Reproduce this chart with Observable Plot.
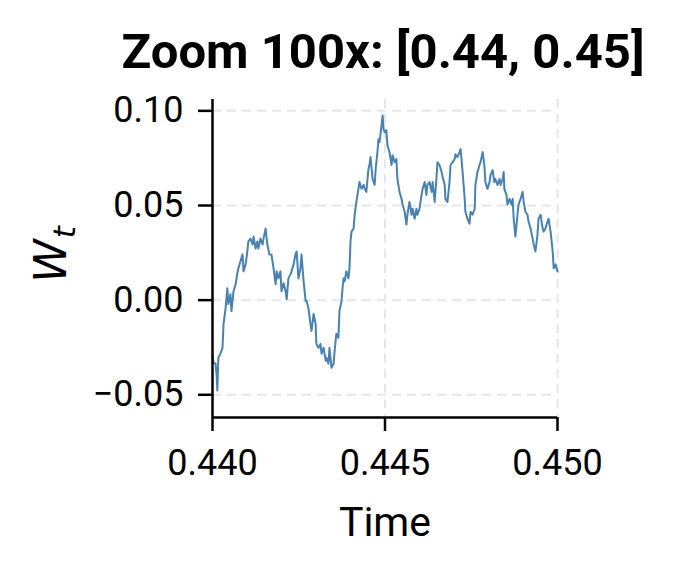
<!DOCTYPE html>
<html>
<head>
<meta charset="utf-8">
<script src="https://cdn.jsdelivr.net/npm/d3@7"></script>
<script src="https://cdn.jsdelivr.net/npm/@observablehq/plot@0.6"></script>
<style>
  html, body { margin: 0; padding: 0; background: #fff; }
  #chart { width: 676px; height: 574px; }
</style>
</head>
<body>
<div id="chart"></div>
<script>
const title = "Zoom 100x: [0.44, 0.45]";
const xLabel = "Time";
const xTicks = [0.44, 0.445, 0.45];
const yTicks = [-0.05, 0, 0.05, 0.1];

const time = [
  0.44000,0.44003,0.44009,0.44012,0.44014,0.44017,0.44023,0.44029,0.44032,0.44038,
  0.44043,0.44046,0.44052,0.44055,0.44061,0.44067,0.44072,0.44075,0.44081,0.44087,
  0.44090,0.44096,0.44101,0.44104,0.44110,0.44116,0.44119,0.44125,0.44130,0.44133,
  0.44139,0.44145,0.44148,0.44154,0.44159,0.44165,0.44171,0.44177,0.44183,0.44186,
  0.44191,0.44197,0.44200,0.44206,0.44212,0.44215,0.44220,0.44226,0.44229,0.44235,
  0.44241,0.44244,0.44249,0.44255,0.44258,0.44264,0.44270,0.44273,0.44278,0.44284,
  0.44287,0.44293,0.44299,0.44301,0.44307,0.44313,0.44316,0.44322,0.44328,0.44330,
  0.44336,0.44339,0.44345,0.44351,0.44354,0.44359,0.44365,0.44368,0.44374,0.44377,
  0.44380,0.44383,0.44388,0.44394,0.44397,0.44400,0.44403,0.44409,0.44412,0.44417,
  0.44423,0.44426,0.44432,0.44438,0.44441,0.44446,0.44452,0.44455,0.44458,0.44464,
  0.44470,0.44473,0.44478,0.44481,0.44484,0.44490,0.44493,0.44496,0.44499,0.44504,
  0.44507,0.44513,0.44519,0.44522,0.44528,0.44533,0.44536,0.44542,0.44548,0.44551,
  0.44557,0.44562,0.44565,0.44571,0.44577,0.44580,0.44586,0.44591,0.44594,0.44600,
  0.44606,0.44609,0.44615,0.44620,0.44623,0.44629,0.44635,0.44638,0.44644,0.44649,
  0.44652,0.44658,0.44664,0.44667,0.44673,0.44675,0.44681,0.44687,0.44690,0.44696,
  0.44702,0.44704,0.44710,0.44716,0.44719,0.44725,0.44731,0.44733,0.44739,0.44745,
  0.44748,0.44754,0.44760,0.44762,0.44768,0.44774,0.44777,0.44783,0.44788,0.44791,
  0.44797,0.44803,0.44806,0.44812,0.44817,0.44820,0.44826,0.44832,0.44835,0.44841,
  0.44844,0.44846,0.44852,0.44855,0.44861,0.44867,0.44870,0.44873,0.44878,0.44884,
  0.44887,0.44893,0.44899,0.44902,0.44907,0.44913,0.44916,0.44922,0.44928,0.44931,
  0.44936,0.44942,0.44945,0.44951,0.44957,0.44960,0.44965,0.44971,0.44974,0.44980,
  0.44986,0.44989,0.44994,0.45000
];
const wt = [
  -0.0294,-0.0331,-0.0336,-0.0399,-0.0477,-0.0304,-0.0283,-0.0252,-0.0126,-0.0042,
  0.0063,-0.0021,0.0031,-0.0058,0.0047,0.0084,0.0142,0.0168,0.0205,0.0241,
  0.0152,0.0189,0.0257,0.0310,0.0325,0.0294,0.0336,0.0273,0.0310,0.0273,
  0.0325,0.0294,0.0325,0.0378,0.0294,0.0241,0.0241,0.0168,0.0084,0.0152,
  0.0115,0.0152,0.0047,0.0089,0.0047,0.0005,0.0115,0.0136,0.0152,0.0189,
  0.0247,0.0257,0.0115,0.0168,0.0241,0.0100,-0.0005,-0.0005,-0.0042,-0.0126,
  -0.0163,-0.0073,-0.0126,-0.0231,-0.0252,-0.0231,-0.0283,-0.0252,-0.0320,-0.0304,
  -0.0336,-0.0252,-0.0357,-0.0336,-0.0268,-0.0178,-0.0199,-0.0058,-0.0005,0.0063,
  0.0115,0.0100,0.0152,0.0115,0.0168,0.0310,0.0362,0.0378,0.0451,0.0519,
  0.0588,0.0624,0.0588,0.0609,0.0588,0.0572,0.0693,0.0714,0.0756,0.0640,
  0.0609,0.0693,0.0782,0.0850,0.0834,0.0923,0.0976,0.0902,0.0887,0.0897,
  0.0819,0.0782,0.0714,0.0766,0.0729,0.0745,0.0640,0.0572,0.0535,0.0504,
  0.0467,0.0399,0.0451,0.0519,0.0451,0.0483,0.0430,0.0483,0.0451,0.0483,
  0.0556,0.0588,0.0624,0.0556,0.0609,0.0624,0.0572,0.0624,0.0519,0.0640,
  0.0729,0.0714,0.0677,0.0651,0.0609,0.0535,0.0519,0.0624,0.0714,0.0729,
  0.0745,0.0771,0.0756,0.0782,0.0798,0.0677,0.0535,0.0467,0.0430,0.0404,
  0.0467,0.0451,0.0483,0.0609,0.0677,0.0714,0.0729,0.0782,0.0714,0.0624,
  0.0588,0.0624,0.0661,0.0687,0.0624,0.0640,0.0609,0.0640,0.0609,0.0640,
  0.0677,0.0588,0.0556,0.0504,0.0535,0.0504,0.0535,0.0430,0.0336,0.0451,
  0.0504,0.0535,0.0572,0.0519,0.0467,0.0451,0.0415,0.0378,0.0325,0.0294,
  0.0257,0.0346,0.0430,0.0451,0.0378,0.0362,0.0378,0.0415,0.0430,0.0362,
  0.0257,0.0168,0.0189,0.0152
];

const data = time.map((t, i) => ({t, w: wt[i]}));
const fmtY = d3.format(".2f");
const fmtX = d3.format(".3f");
const gridStyle = {stroke: "#e6e6e6", strokeWidth: 2, strokeDasharray: "9,6", strokeOpacity: 1};

const chart = Plot.plot({
  width: 676,
  height: 574,
  marginLeft: 212,
  marginRight: 119,
  marginTop: 99,
  marginBottom: 157,
  style: {fontFamily: "Roboto, sans-serif", fontSize: "36px", color: "#000", background: "#fff", overflow: "visible"},
  x: {domain: [0.44, 0.45]},
  y: {domain: [-0.062, 0.106]},
  marks: [
    Plot.gridY(yTicks, gridStyle),
    Plot.gridX(xTicks.slice(1), gridStyle),
    Plot.line(data, {x: "t", y: "w", stroke: "#4682b4", strokeWidth: 2}),
    Plot.ruleX([0.44], {stroke: "#000", strokeWidth: 2.5}),
    Plot.ruleY([-0.062], {stroke: "#000", strokeWidth: 2.5}),
    Plot.axisY(yTicks, {tickSize: 14, tickPadding: 15, strokeWidth: 2.5, tickFormat: fmtY, label: null, fontSize: 36}),
    Plot.axisX(xTicks, {tickSize: 14, tickPadding: 18, strokeWidth: 2.5, tickFormat: fmtX, label: null, fontSize: 36}),
    Plot.text([title], {frameAnchor: "top", lineAnchor: "bottom", dy: -32, dx: -2, fontWeight: "bold", fontSize: 49, fill: "#000"}),
    Plot.text([xLabel], {frameAnchor: "bottom", lineAnchor: "bottom", dy: 118, fontSize: 41, fill: "#000"}),
    Plot.text(["W"], {frameAnchor: "left", textAnchor: "middle", lineAnchor: "bottom", dx: -147, dy: -4, rotate: -90, fontSize: 44, fontFamily: "DejaVu Sans", fontStyle: "italic", fill: "#000", className: "ylab"})
  ]
});
document.getElementById("chart").appendChild(chart);

// italic subscript t on the y label
const lab = d3.select(chart).select(".ylab text");
lab.append("tspan").attr("font-size", 31).attr("dy", 9).attr("dx", 1).text("t");
</script>
</body>
</html>
